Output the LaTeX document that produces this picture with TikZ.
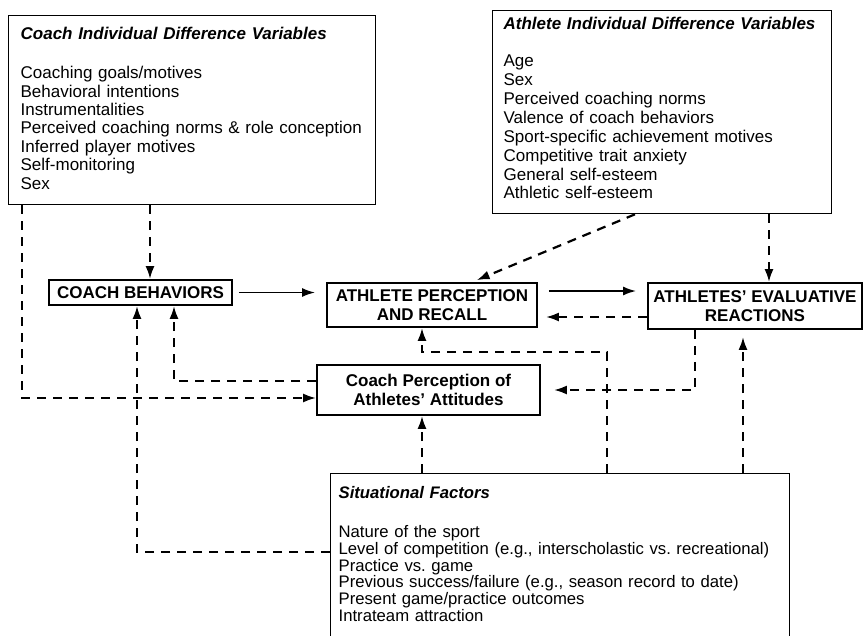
\documentclass[tikz,border=0pt]{standalone}
\usepackage{fontspec}
\setmainfont{Liberation Sans}
\frenchspacing
\usetikzlibrary{arrows.meta}
\tikzset {>={Latex[length=13pt,width=9pt]}}
\newcommand{\tailgap}[1]{\rule[-#1]{0pt}{#1}}
\tikzset{
  varbox/.style={draw,line width=1.3pt,anchor=north west,align=left,font=\fontsize{17}{18.4}\selectfont},
  keybox/.style={draw,line width=1.8pt,align=center,inner sep=2pt,font=\bfseries\fontsize{17}{18.4}\selectfont},
  dline/.style={line width=2.2pt,dash pattern=on 9pt off 7pt},
  sline/.style={line width=1.8pt}
}

\begin{document}
\begin{tikzpicture}[x=1pt,y=-1pt]
\useasboundingbox (0,0) rectangle (865,635);
\clip (0,0) rectangle (865,635);
\node[varbox,inner xsep=12pt,text width=343pt,minimum height=189pt] (coachvar) at (8,15) {\textbf{\textit{Coach Individual Difference Variables}}\\[20.6pt]
Coaching goals/motives\\
Behavioral intentions\\
Instrumentalities\\
Perceived coaching norms \& role conception\\
Inferred player motives\\
Self-monitoring\\
Sex\tailgap{4pt}};
\node[varbox,inner xsep=11pt,text width=317pt,minimum height=203pt,font=\fontsize{17}{18.9}\selectfont] (athvar) at (492,10) {\textbf{\textit{Athlete Individual Difference Variables}}\\[18.1pt]
Age\\
Sex\\
Perceived coaching norms\\
Valence of coach behaviors\\
Sport-specific achievement motives\\
Competitive trait anxiety\\
General self-esteem\\
Athletic self-esteem\tailgap{8pt}};
\node[varbox,inner xsep=8pt,inner ysep=13pt,text width=443pt,font=\fontsize{16.7}{16.7}\selectfont] (situ) at (330,473) {\textbf{\textit{Situational Factors}}\\[22.3pt]
Nature of the sport\\
Level of competition (e.g., interscholastic vs. recreational)\\
Practice vs. game\\
Previous success/failure (e.g., season record to date)\\
Present game/practice outcomes\\
Intrateam attraction\tailgap{14pt}};
\node[keybox,minimum width=183pt,minimum height=25pt] (cbeh) at (140.5,292.5) {COACH BEHAVIORS};
\node[keybox,minimum width=210pt,minimum height=44pt] (athperc) at (432,305) {ATHLETE PERCEPTION\\AND RECALL};
\node[keybox,minimum width=214pt,minimum height=46pt] (evalr) at (755,306) {ATHLETES' EVALUATIVE\\REACTIONS};
\node[keybox,minimum width=223pt,minimum height=50pt] (cperc) at (428.5,390) {Coach Perception of\\Athletes' Attitudes};
\coordinate (loopc) at (607,352);
\draw[dline,->] (coachvar.south -| 150,0) -- (cbeh.north -| 150,0);
\draw[dline,->] (coachvar.south -| 22,0) |- ([yshift=-8pt]cperc.west);
\draw[dline,->] (situ.west |- 0,552) -| ([xshift=-3.5pt]cbeh.south);
\draw[dline,->] ([yshift=9pt]cperc.west) -| ([xshift=33.5pt]cbeh.south);
\draw[sline,->,shorten <=6pt,shorten >=11pt] (cbeh.east) -- (athperc.west |- cbeh.east);
\draw[dline,->,shorten >=5pt] (athvar.south -| 635,0) -- ([xshift=40pt]athperc.north);
\draw[dline,->] (athvar.south -| 769,0) -- (evalr.north -| 769,0);
\draw[sline,->,shorten <=11pt,shorten >=11pt] ([yshift=14pt]athperc.east) -- ([yshift=14pt]athperc.east -| evalr.west);
\draw[dline,->,shorten >=8pt] ([yshift=-11pt]evalr.west) -- ([yshift=-11pt]evalr.west -| athperc.east);
\draw[dline,->,shorten >=13pt] (evalr.south -| 695,0) |- (cperc.east);
\draw[dline,->] (situ.north -| loopc) -- (loopc) -| ([xshift=-10pt]athperc.south);
\draw[dline,->] (situ.north -| 422,0) -- (cperc.south -| 422,0);
\draw[dline,->,shorten >=7pt] (situ.north -| 743,0) -- (evalr.south -| 743,0);
\end{tikzpicture}
\end{document}
